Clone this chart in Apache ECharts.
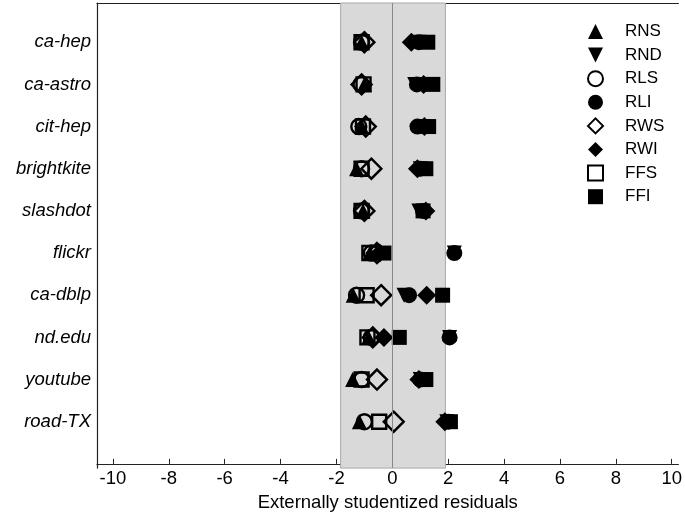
<!DOCTYPE html>
<html>
<head>
<meta charset="utf-8">
<script src="https://cdn.jsdelivr.net/npm/echarts@6/dist/echarts.min.js"></script>
<style>html,body{margin:0;padding:0;background:#fff}#c{width:685px;height:517px}</style>
</head>
<body>
<div id="c"></div>
<script>
const categories = ['ca-hep','ca-astro','cit-hep','brightkite','slashdot','flickr','ca-dblp','nd.edu','youtube','road-TX'];
const xTicks = [-10,-8,-6,-4,-2,0,2,4,6,8,10];
const RNS = [-1.10,-1.00,-1.10,-1.28,-1.05,-0.80,-1.40,-0.85,-1.42,-1.18];
const RND = [0.95,0.80,1.10,1.00,0.95,2.22,0.42,2.05,1.00,1.95];
const RLS = [-1.10,-1.12,-1.20,-1.10,-1.10,-0.75,-1.28,-0.75,-1.10,-1.00];
const RLI = [0.95,0.88,0.90,1.00,1.10,2.22,0.60,2.05,1.00,2.00];
const RWS = [-1.00,-1.10,-0.95,-0.75,-1.00,-0.55,-0.40,-0.70,-0.55,0.05];
const RWI = [0.68,1.12,1.15,0.90,1.20,-0.45,1.23,-0.30,0.95,1.88];
const FFS = [-1.10,-1.03,-1.05,-1.10,-1.10,-0.82,-0.92,-0.89,-1.10,-0.47];
const FFI = [1.27,1.45,1.30,1.20,1.10,-0.30,1.80,0.25,1.20,2.08];
const band = [-1.85, 1.9];

const N = categories.length;
const rowVal = i => N - i;
const FONT = 'Liberation Sans';
const downTri = 'path://M0,0 L10,0 L5,10 Z';

function mk(name, vals, symbol, size, filled) {
  return {
    name, type: 'scatter', symbol, symbolSize: size,
    data: vals.map((v, i) => [v, rowVal(i)]),
    itemStyle: filled
      ? { color: '#000', borderColor: '#000', borderWidth: 0, opacity: 1 }
      : { color: 'rgba(0,0,0,0)', borderColor: '#000', borderWidth: 2.4, opacity: 1 },
    emphasis: { disabled: true },
    z: 3
  };
}

const series = [
  mk('RNS', RNS, 'triangle', 15, true),
  mk('RND', RND, downTri, 15, true),
  mk('RLS', RLS, 'circle', 15, false),
  mk('RLI', RLI, 'circle', 16, true),
  mk('RWS', RWS, 'diamond', 20, false),
  mk('RWI', RWI, 'diamond', 19, true),
  mk('FFS', FFS, 'rect', 14, false),
  mk('FFI', FFI, 'rect', 15, true)
];
series[0].markArea = {
  silent: true,
  itemStyle: { color: '#d9d9d9', borderColor: '#a8a8a8', borderWidth: 1 },
  data: [[{ xAxis: band[0] }, { xAxis: band[1] }]]
};
series[0].markLine = {
  silent: true, symbol: 'none', label: { show: false },
  lineStyle: { color: '#888', type: 'solid', width: 1 },
  data: [{ xAxis: 0 }]
};

const chart = echarts.init(document.getElementById('c'));
chart.setOption({
  animation: false,
  backgroundColor: '#fff',
  grid: { left: 97, right: 0, top: 3, bottom: 48 },
  legend: {
    orient: 'vertical', left: 582, top: 18,
    itemWidth: 15, itemHeight: 15, itemGap: 6.6,
    textStyle: { fontFamily: FONT, fontSize: 17, color: '#000', padding: [0, 0, 0, 17], lineHeight: 15 },
    data: ['RNS','RND','RLS','RLI','RWS','RWI','FFS','FFI'],
    selectedMode: false
  },
  xAxis: [{
    type: 'value', min: -10.57, max: 10.24,
    name: 'Externally studentized residuals', nameLocation: 'middle', nameGap: 21,
    nameTextStyle: { fontFamily: FONT, fontSize: 18.5, color: '#000' },
    axisLine: { show: true, lineStyle: { color: '#222', width: 1.2 } },
    axisTick: { show: true, inside: true, length: 5, customValues: xTicks, lineStyle: { color: '#222' } },
    axisLabel: { customValues: xTicks, fontFamily: FONT, fontSize: 18.5, color: '#000', margin: 1 },
    splitLine: { show: false }
  }, {
    type: 'value', position: 'top', min: -10.57, max: 10.24,
    axisLine: { show: true, onZero: false, lineStyle: { color: '#222', width: 1.2 } },
    axisTick: { show: false }, axisLabel: { show: false }, splitLine: { show: false }
  }],
  yAxis: {
    type: 'value', min: -0.1, max: 10.93,
    axisLine: { show: true, onZero: false, lineStyle: { color: '#222', width: 1.2 } },
    axisTick: { show: false },
    splitLine: { show: false },
    axisLabel: {
      customValues: categories.map((c, i) => rowVal(i)),
      formatter: v => categories[N - Math.round(v)],
      fontFamily: FONT, fontSize: 18.5, fontStyle: 'italic', color: '#000', margin: 6
    }
  },
  series
});
</script>
</body>
</html>
